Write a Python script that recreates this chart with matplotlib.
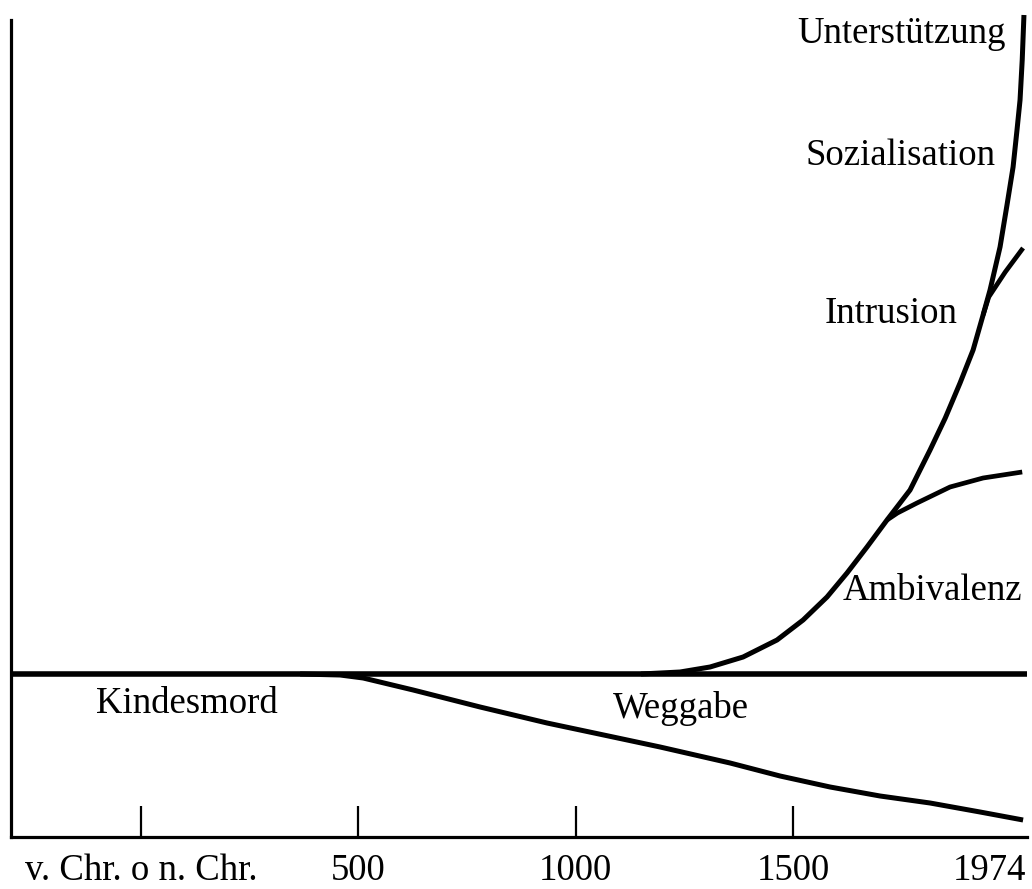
import matplotlib.pyplot as plt

plt.rcParams['font.family'] = ['Liberation Serif', 'DejaVu Serif']

# Zeitachse (Jahre) und Ordinate (willkürliche Einheiten)
tick_years = [0, 500, 1000, 1500]
tick_labels = ['v. Chr. o n. Chr.', '500', '1000', '1500']
end_year = 1974

# Grundlinie Kindesmord
base_years = [-299, 2038]
base_vals = [163, 163]

# Weggabe (nach unten)
wegg_years = [366, 458, 511, 626, 780, 934, 1086, 1194, 1355, 1470, 1585,
              1700, 1815, 1930, 2029]
wegg_vals = [163, 162, 159, 147, 130, 114, 100, 90, 74, 61, 50, 41, 34, 25, 17]

# Hauptkurve nach oben: Ambivalenz -> Intrusion -> Sozialisation -> Unterstützung
main_years = [1150, 1240, 1309, 1385, 1463, 1523, 1578, 1624, 1670, 1716, 1769,
              1815, 1850, 1884, 1914, 1937, 1953, 1976, 1992, 2006, 2015, 2022,
              2027, 2031]
main_vals = [163, 165, 170, 180, 197, 217, 240, 264, 290, 317, 347, 387, 419,
             454, 487, 522, 547, 590, 632, 670, 707, 737, 777, 822]

# Abzweig Ambivalenz
amb_years = [1716, 1740, 1785, 1861, 1937, 2027]
amb_vals = [317, 324, 334, 350, 359, 365]

# Abzweig Intrusion
intr_years = [1937, 1950, 1988, 2029]
intr_vals = [522, 540, 565, 589]

fig = plt.figure(figsize=(10.32, 8.89), dpi=100)
ax = fig.add_axes([11 / 1032, 52 / 889, 1016 / 1032, 817 / 889])

kw = dict(color='k', solid_capstyle='butt', solid_joinstyle='round')
ax.plot(base_years, base_vals, linewidth=4.0, **kw)
ax.plot(wegg_years, wegg_vals, linewidth=3.6, **kw)
ax.plot(main_years, main_vals, linewidth=3.6, clip_on=False, **kw)
ax.plot(amb_years, amb_vals, linewidth=3.4, **kw)
ax.plot(intr_years, intr_vals, linewidth=3.4, **kw)

ax.set_xlim(-299, 2038)
ax.set_ylim(0, 817)

for s in ['top', 'right']:
    ax.spines[s].set_visible(False)
ax.spines['left'].set_linewidth(2.3)
ax.spines['bottom'].set_linewidth(2.3)

ax.set_yticks([])
ax.set_xticks(tick_years)
ax.set_xticklabels([])
ax.tick_params(axis='x', direction='in', length=22, width=1.6)

fs = 26.5
for x, lab in zip(tick_years, tick_labels):
    ax.text(x, -43, lab, ha='center', va='baseline', fontsize=fs, clip_on=False)
ax.text(2036, -43, str(end_year), ha='right', va='baseline', fontsize=fs, clip_on=False)

ax.text(1988, 794, 'Unterstützung', ha='right', va='baseline', fontsize=fs)
ax.text(1965, 672, 'Sozialisation', ha='right', va='baseline', fontsize=fs)
ax.text(1877, 514, 'Intrusion', ha='right', va='baseline', fontsize=fs)
ax.text(2027, 237, 'Ambivalenz', ha='right', va='baseline', fontsize=fs)
ax.text(106, 124, 'Kindesmord', ha='center', va='baseline', fontsize=fs)
ax.text(1241, 119, 'Weggabe', ha='center', va='baseline', fontsize=fs)

plt.savefig('out.png', dpi=100)
